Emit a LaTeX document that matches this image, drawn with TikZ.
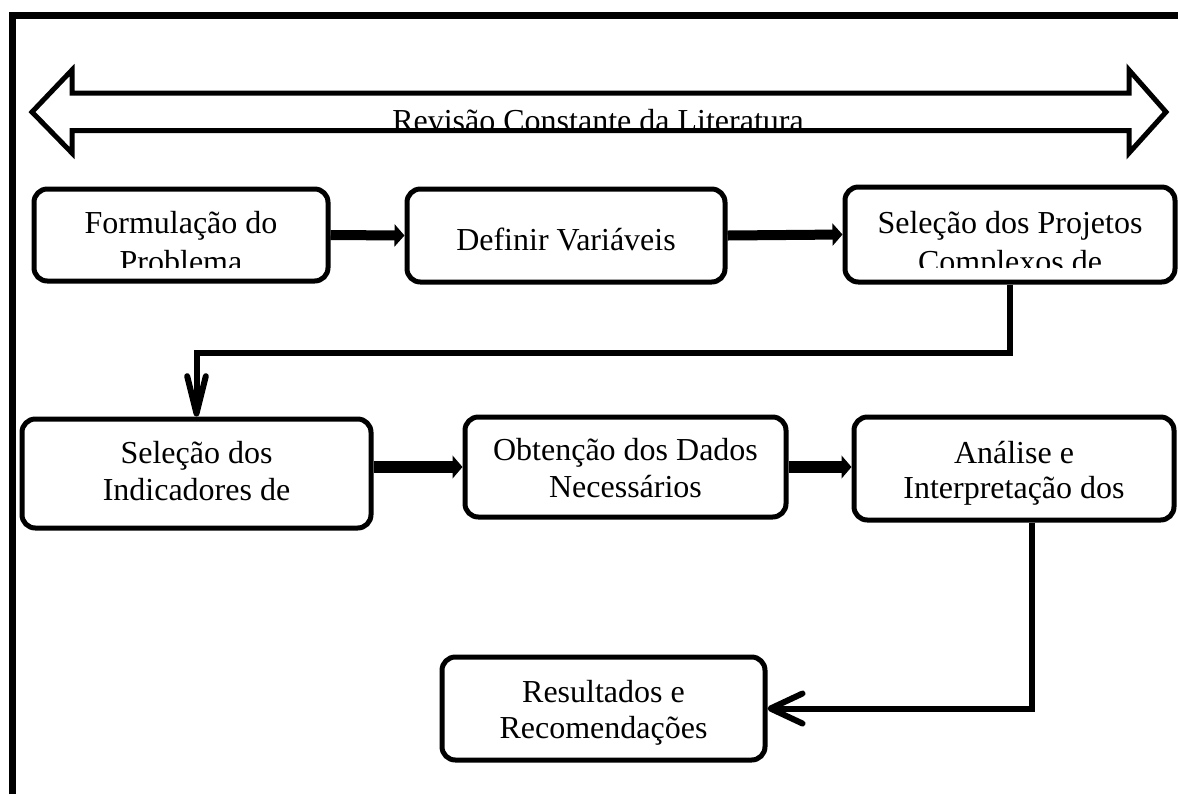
\documentclass[tikz,border=0pt]{standalone}
\usepackage{fontspec}
\setmainfont{Liberation Serif}
\usetikzlibrary{arrows.meta}
\begin{document}
\begin{tikzpicture}[x=0.75pt,y=-0.75pt,
  box/.style={draw,line width=3.75pt,rounded corners=10pt,inner sep=0pt},
  txt/.style={font=\fontsize{24}{28}\selectfont,anchor=base,inner sep=0pt},
  flowa/.style={line width=7.5pt,-{Triangle[length=7.5pt,width=16.5pt]}},
  flowb/.style={line width=9pt,-{Triangle[length=7.5pt,width=17pt]}},
  conn/.style={line width=4.5pt},
  bigarrow/.style={line width=3.75pt,line join=miter}]
\fill[white] (0,0) rectangle (1178,794);
\useasboundingbox (0,0) rectangle (1178,794);
% page border
\draw[line width=5.25pt,line join=miter] (12,794) -- (12,15.5) -- (1178,15.5);
% literature arrow
\begin{scope}
\clip (72,95) rectangle (1128,127.5);
\node[txt] (lit) at (598,131) {Revisão Constante da Literatura};
\end{scope}
\draw[bigarrow] (32,112) -- (72,70) -- (72,93) -- (1129,93) -- (1129,70) -- (1166,112)
  -- (1129,153) -- (1129,130.5) -- (72,130.5) -- (72,153) -- cycle;
% boxes
\node[box,minimum width=220.5pt,minimum height=69pt] (b1) at (181,235) {};
\node[box,minimum width=238.5pt,minimum height=69.75pt] (b2) at (566,235.5) {};
\node[box,minimum width=247.5pt,minimum height=71.25pt] (b3) at (1010,234.5) {};
\node[box,minimum width=261.75pt,minimum height=81.75pt] (b4) at (196.5,473.5) {};
\node[box,minimum width=240.75pt,minimum height=75pt] (b5) at (625.5,467) {};
\node[box,minimum width=240pt,minimum height=77.25pt] (b6) at (1014,468.5) {};
\node[box,minimum width=242.25pt,minimum height=77.25pt] (b7) at (603.5,708.5) {};
% texts
\begin{scope}
\clip (36,191) rectangle (326,267);
\node[txt] (t1a) at (181,233) {Formulação do};
\node[txt] (t1b) at (181,272) {Problema};
\end{scope}
\node[txt] (t2) at (566,250) {Definir Variáveis};
\begin{scope}
\clip (847,190) rectangle (1173,267);
\node[txt] (t3a) at (1010,233) {Seleção dos Projetos};
\node[txt] (t3b) at (1010,272) {Complexos de};
\end{scope}
\node[txt] (t4a) at (196.5,463) {Seleção dos};
\node[txt] (t4b) at (196.5,500) {Indicadores de};
\node[txt] (t5a) at (625.5,460) {Obtenção dos Dados};
\node[txt] (t5b) at (625.5,497) {Necessários};
\node[txt] (t6a) at (1014,463) {Análise e};
\node[txt] (t6b) at (1014,498) {Interpretação dos};
\node[txt] (t7a) at (603.5,702) {Resultados e};
\node[txt] (t7b) at (603.5,738) {Recomendações};
% connectors
\draw[flowa] (b1.east) -- (b2.west);
\draw[flowa] (b2.east) -- (b3.west);
\draw[conn,-{Straight Barb[length=28pt,width=14pt,round]}] (b3.south) -- ++(0,68) -| (b4.north);
\draw[flowb] (b4.east |- b5.west) -- (b5.west);
\draw[flowb] (b5.east) -- (b5.east -| b6.west);
\draw[conn,-{Straight Barb[length=24pt,width=22.5pt,round]}] ([xshift=13.5pt]b6.south) |- (b7.east);
\end{tikzpicture}
\end{document}
